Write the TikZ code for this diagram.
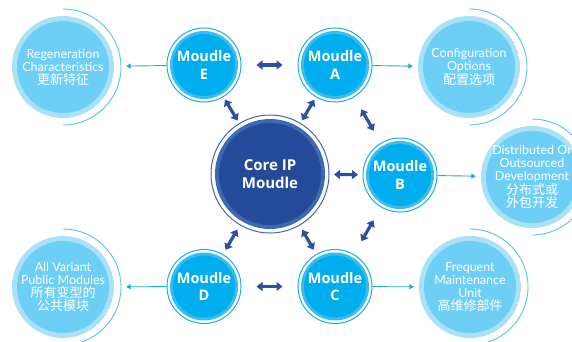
\documentclass[tikz,border=0pt]{standalone}
\usepackage{fontspec}
\usetikzlibrary{arrows.meta}
\setmainfont{Lato}
\newfontfamily\modfont{Open Sans}
\newfontfamily\cjk{Noto Sans CJK SC}

\definecolor{outfill}{HTML}{6DCFF5}
\definecolor{outband}{HTML}{A9E1F7}
\definecolor{outarc}{HTML}{55C4EF}
\definecolor{modfill}{HTML}{00ADEE}
\definecolor{modband}{HTML}{36BEF1}
\definecolor{modline}{HTML}{1FA9E6}
\definecolor{corefill}{HTML}{244A9A}
\definecolor{coreband}{HTML}{3C68B4}
\definecolor{coreline}{HTML}{3A6AB8}
\definecolor{linkblue}{HTML}{2C4F9F}
\definecolor{feedblue}{HTML}{1DA7E4}

\begin{document}
\begin{tikzpicture}[x=1pt,y=-1pt,
  module/.style={circle,draw=modline,line width=1pt,minimum size=74pt,inner sep=0pt,
    text=white,align=center,font=\modfont\bfseries\fontsize{14.5}{17.5}\selectfont,
    path picture={\fill[modband] (path picture bounding box.center) circle (34pt);
                  \fill[modfill] (path picture bounding box.center) circle (31pt);}},
  core/.style={circle,draw=coreline,line width=1pt,minimum size=118pt,inner sep=0pt,
    text=white,align=center,font=\modfont\bfseries\fontsize{15}{17.5}\selectfont,
    path picture={\fill[coreband] (path picture bounding box.center) circle (55pt);
                  \fill[corefill] (path picture bounding box.center) circle (51pt);}},
  outer/.style={circle,minimum size=102pt,inner sep=0pt,text=white,align=center,
    font=\fontsize{12.5}{13}\selectfont,
    path picture={\fill[outband] (path picture bounding box.center) circle (51pt);
                  \fill[outfill] (path picture bounding box.center) circle (46pt);}},
  link/.style={draw=linkblue,line width=3.2pt,
    {Triangle[length=6pt,width=9pt]}-{Triangle[length=6pt,width=9pt]}},
  feed/.style={draw=feedblue,line width=0.9pt,-{Triangle[length=4.5pt,width=5pt]}},
  outarc/.style={draw=outarc,line width=0.9pt}
]
\useasboundingbox (0,0) rectangle (572,341);
\clip (0,0) rectangle (572,341);
\fill[white] (0,0) rectangle (572,341);

% outer features
\node[outer] (regen) at (63,67) {Regeneration\\Characteristics\\{\cjk\fontsize{13}{14.5}\selectfont 更新特征}};
\node[outer] (config) at (469,67) {Configuration\\Options\\{\cjk\fontsize{13}{14.5}\selectfont 配置选项}};
\node[outer] (distrib) at (532,177) {Distributed Or\\Outsourced\\Development\\{\cjk\fontsize{13}{14.5}\selectfont 分布式或}\\{\cjk\fontsize{13}{14.5}\selectfont 外包开发}};
\node[outer] (allvar) at (63,287) {All Variant\\Public Modules\\{\cjk\fontsize{13}{14.5}\selectfont 所有变型的}\\{\cjk\fontsize{13}{14.5}\selectfont 公共模块}};
\node[outer] (freq) at (470,287) {Frequent\\Maintenance\\Unit\\{\cjk\fontsize{13}{14.5}\selectfont 高维修部件}};
\foreach \n in {regen,config,distrib,allvar,freq}
  \draw[outarc] (\n) ++(90:58) arc (90:-90:58);

% modules
\node[core] (core) at (270,174) {Core IP\\Moudle};
\node[module] (E) at (204,65) {Moudle\\E};
\node[module] (A) at (335,65) {Moudle\\A};
\node[module] (B) at (400,175) {Moudle\\B};
\node[module] (C) at (335,286.5) {Moudle\\C};
\node[module] (D) at (204,286.5) {Moudle\\D};

% links between modules
\draw[link,shorten <=15pt,shorten >=15pt] (E) -- (A);
\draw[link,shorten <=15pt,shorten >=15pt] (D) -- (C);
\draw[link,shorten <=14pt,shorten >=14pt] (A) -- (B);
\draw[link,shorten <=15pt,shorten >=15pt] (B) -- (C);
\draw[link,shorten <=4.5pt,shorten >=4.5pt] (core) -- (B);
\draw[link,shorten <=3pt,shorten >=3pt] (core) -- (E);
\draw[link,shorten <=3pt,shorten >=3pt] (core) -- (A);
\draw[link,shorten <=5pt,shorten >=5pt] (core) -- (C);
\draw[link,shorten <=5pt,shorten >=5pt] (core) -- (D);

% feeds to features
\draw[feed,shorten >=12pt] (E) -- (regen);
\draw[feed,shorten >=12pt] (D) -- (allvar);
\draw[feed,shorten >=5pt] (A) -- (config);
\draw[feed,shorten >=5pt] (B) -- (distrib);
\draw[feed,shorten >=5pt] (C) -- (freq);

\end{tikzpicture}
\end{document}
